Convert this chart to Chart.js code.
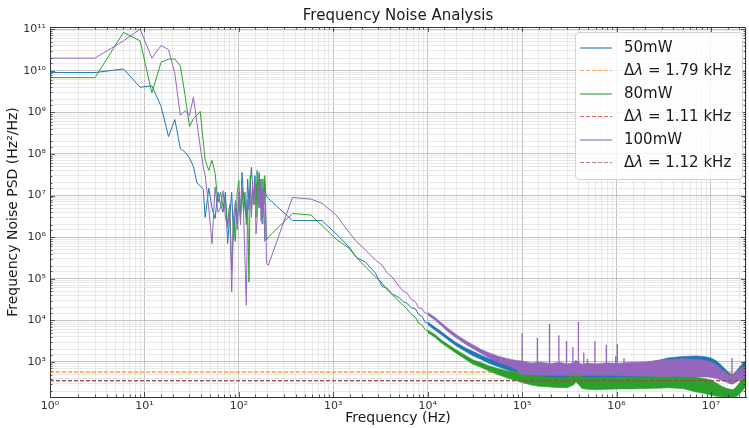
<!DOCTYPE html>
<html>
<head>
<meta charset="utf-8">
<script src="https://cdn.jsdelivr.net/npm/chart.js@4.4.0/dist/chart.umd.min.js"></script>
<style>
  html, body { margin: 0; padding: 0; background: #fff; }
  #wrap { position: relative; width: 749px; height: 428px; font-family: "DejaVu Sans", sans-serif; }
  #legendBox { position: absolute; left: 575px; top: 32px; width: 168px; height: 148px; box-sizing: border-box;
    border: 1px solid #d4d4d4; border-radius: 4px; background: rgba(255,255,255,0.8); padding-top: 3px; }
  .legend-item { position: relative; height: 23px; line-height: 23px; font-size: 15px; color: #1a1a1a; padding-left: 48px; white-space: nowrap; }
  .legend-line { position: absolute; left: 4px; top: 11px; width: 32px; height: 2px; }
</style>
</head>
<body>
<div id="wrap">
  <canvas id="psdChart" width="749" height="428"></canvas>
  <div id="legendBox"></div>
</div>
<script>
// low frequency part, shared 3 Hz grid
var lowFreq = [1, 3, 6, 9, 12, 15, 18, 21, 24, 27, 30, 33, 36, 39, 42];
var lowPsd50 = [9e9, 9e9, 1.1e10, 4e9, 4.3e9, 1.4e9, 2.6e8, 6.7e8, 1.35e8, 1.1e8, 8e7, 5e7, 2e7, 1.7e7, 1.4e7];
var lowPsd80 = [6.8e9, 6.8e9, 8.3e10, 5.2e10, 2.9e9, 1.6e10, 1.9e10, 1.9e10, 1.3e10, 2.5e9, 4.6e8, 7e8, 8.5e8, 1.05e9, 2e8];
var lowPsd100 = [2e10, 2e10, 5.2e10, 1e11, 2e10, 4e10, 3.2e10, 8.5e9, 8.4e8, 1.1e9, 8.4e8, 2.3e9, 5.6e8, 1.5e8, 5e7];

// acoustic band 40 - 200 Hz
var noiseFreq = [44, 48, 52, 56, 60, 64, 68, 72, 76, 80, 84, 88, 92, 96, 100, 104, 108, 112, 116, 120,
  124, 128, 132, 136, 140, 144, 148, 152, 156, 160, 164, 168, 172, 176, 180, 184, 188, 192, 196];
var noisePsd50 = [3e6, 1.5e7, 5e6, 2.8e6, 1.2e7, 6e6, 4e6, 1.2e7, 7e5, 3e6, 1.2e7, 8.5e5, 5e6, 2e6, 9e6, 3e6, 3.6e7, 1e7, 5e6, 3e6,
  2.5e7, 6e6, 2e7, 4.8e7, 1.5e7, 8e6, 3e7, 9e6, 2e7, 6e6, 3.6e7, 1e7, 2.5e7, 2.1e6, 1.5e7, 8e6, 2.3e7, 1.2e7, 9.5e6];
var noisePsd80 = [7e7, 4e7, 7e7, 3.4e7, 6.8e6, 1.2e7, 5.2e6, 8e6, 2e6, 6e6, 1.6e5, 3e6, 8e5, 1.2e7, 2.3e7, 3e6, 1.5e7, 4e6, 1.2e7, 2e6,
  6e6, 8.3e4, 3e7, 4e6, 1.5e7, 6e6, 2e7, 3e6, 4e7, 8e6, 2.5e7, 5e6, 1.5e7, 3e6, 2.5e7, 6e6, 3e7, 4e6, 8.5e5];
var noisePsd100 = [3e7, 5e6, 7e5, 1.6e7, 4e6, 5e6, 1.3e7, 3e6, 1.7e6, 6e6, 4.8e4, 3e6, 7.6e6, 1.5e6, 1.2e7, 2e6, 1.6e7, 5e6, 3e5, 2.3e4,
  8e6, 4.4e6, 1.5e7, 3e6, 2.2e7, 6e6, 2.3e7, 1.2e6, 2.5e6, 1.8e7, 5e6, 2e7, 2.4e6, 1.5e7, 3.7e6, 1.2e7, 8e5, 6e6, 2.4e5];

// 200 Hz - 10 kHz
var midFreq = [205, 370, 580, 760, 1070, 1470, 1750, 2200, 2800, 3300, 3700, 4200, 5000, 5500, 6000, 6700, 7400, 8000, 8700, 9400, 10000];
var midPsd50 = [8.5e6, 2.5e6, 2.5e6, 2.5e6, 1.2e6, 5.8e5, 3.3e5, 2.5e5, 1.36e5, 6.5e4, 6e4, 4.3e4, 3.5e4, 2.8e4, 2.6e4, 2e4, 1.9e4, 1.4e4, 1.25e4, 9e3, 8.5e3];
var midPsd80 = [1e6, 3.7e6, 3.4e6, 1.9e6, 9e5, 5.4e5, 3.3e5, 1.9e5, 1.1e5, 7.8e4, 5.5e4, 4.2e4, 2.8e4, 2.3e4, 1.9e4, 1.4e4, 1.2e4, 8.5e3, 7.8e3, 6e3, 5.5e3];
var midPsd100 = [2.1e5, 9e6, 8.2e6, 6.5e6, 3.4e6, 1.3e6, 8e5, 4.9e5, 2.8e5, 2.1e5, 1.4e5, 1.1e5, 6.5e4, 5e4, 4.6e4, 3.2e4, 2.8e4, 2e4, 1.9e4, 1.5e4, 1.45e4];

// high frequency noise floor: lower / upper envelope of each trace
var bandFreq = [1e4, 1.2e4, 1.4e4, 1.7e4, 2e4, 2.5e4, 3e4, 3.7e4, 4.5e4, 5.5e4, 7e4, 8.5e4, 1e5, 1.25e5, 1.5e5, 2e5, 2.5e5,
  3e5, 3.5e5, 3.7e5, 3.9e5, 4.3e5, 5e5, 6e5, 8e5, 1e6, 1.4e6, 2e6, 2.8e6, 3.5e6, 5e6, 7e6, 8.5e6, 1e7, 1.15e7, 1.3e7,
  1.45e7, 1.6e7, 1.7e7, 1.8e7, 1.95e7, 2.1e7, 2.25e7, 2.35e7];
var bandLo50 = [7.9e3, 5.8e3, 4.5e3, 3.2e3, 2.45e3, 1.8e3, 1.42e3, 1.15e3, 920, 780, 640, 560, 440, 420, 410, 410, 410,
  410, 420, 470, 440, 420, 420, 420, 420, 420, 430, 440, 450, 450, 450, 450, 450, 440, 420, 380,
  340, 300, 300, 320, 360, 400, 430, 450];
var bandHi50 = [9.1e3, 6.8e3, 5.3e3, 3.8e3, 2.95e3, 2.2e3, 1.8e3, 1.45e3, 1.2e3, 1.05e3, 900, 830, 780, 740, 720, 700, 700,
  700, 720, 820, 760, 700, 700, 720, 750, 780, 850, 950, 1.1e3, 1.25e3, 1.35e3, 1.4e3, 1.35e3, 1.25e3, 1.05e3, 820,
  640, 520, 500, 560, 700, 850, 1e3, 1.1e3];
var bandLo80 = [5.1e3, 3.9e3, 2.85e3, 2.1e3, 1.63e3, 1.17e3, 890, 740, 600, 500, 410, 360, 320, 280, 260, 250, 240,
  240, 280, 330, 300, 230, 220, 215, 220, 225, 225, 230, 235, 240, 230, 190, 175, 160, 150, 145,
  140, 135, 135, 140, 160, 190, 230, 260];
var bandHi80 = [5.9e3, 4.5e3, 3.35e3, 2.5e3, 1.97e3, 1.45e3, 1.13e3, 960, 800, 700, 610, 570, 530, 480, 450, 430, 420,
  420, 540, 740, 600, 430, 420, 420, 420, 420, 430, 440, 460, 480, 460, 430, 400, 370, 310, 260,
  235, 220, 215, 235, 290, 370, 420, 440];
var bandLo100 = [1.35e4, 1e4, 7.4e3, 5e3, 3.8e3, 2.7e3, 2.1e3, 1.6e3, 1.25e3, 1e3, 820, 680, 500, 490, 480, 480, 470,
  470, 470, 480, 480, 470, 470, 470, 470, 470, 460, 460, 450, 450, 450, 440, 440, 430, 400, 360,
  330, 300, 300, 320, 350, 380, 400, 420];
var bandHi100 = [1.55e4, 1.17e4, 8.7e3, 6e3, 4.6e3, 3.3e3, 2.6e3, 2e3, 1.65e3, 1.4e3, 1.2e3, 1.1e3, 1.05e3, 950, 1e3, 920, 980,
  900, 960, 1.1e3, 1e3, 880, 950, 900, 960, 920, 980, 1e3, 1.1e3, 1.15e3, 1.2e3, 1.15e3, 1.1e3, 1e3, 850, 650,
  540, 470, 460, 520, 620, 720, 820, 900];

// narrow spurs on the 100mW trace
var spikeFreq = [1e5, 1.45e5, 1.95e5, 2.45e5, 2.95e5, 3.45e5, 3.95e5, 4.5e5, 4.9e5, 5.9e5, 7.8e5, 9.8e5, 1.02e6, 1.2e6, 1.67e7];
var spikeBase = [800, 800, 800, 800, 800, 800, 900, 800, 800, 800, 800, 800, 800, 800, 420];
var spikeTop = [5e3, 3.8e3, 8.2e3, 4.4e3, 3.2e3, 2.3e3, 9.1e3, 1.7e3, 1.2e3, 3.2e3, 2.6e3, 1.4e3, 2.7e3, 1.25e3, 1.25e3];

// white noise levels h0 (linewidth = pi * h0)
var seriesLabels = ['50mW', '80mW', '100mW'];
var linewidthLabels = ['1.79 kHz', '1.11 kHz', '1.12 kHz'];
var whiteLevels = [570, 353, 356.5];

var xMin = 1, xMax = 2.35e7, yMin = 144, yMax = 1.12e11;
var lineColors = ['#1f77b4', '#2ca02c', '#9467bd'];
var dashColors = ['#ff7f0e', '#d62728', '#8c564b'];
var legendTints = ['rgba(31,119,180,0.55)', 'rgba(255,127,14,0.7)', 'rgba(44,160,44,0.55)',
  'rgba(214,39,40,0.7)', 'rgba(148,103,189,0.55)', 'rgba(140,86,75,0.7)'];

function pts(fs, vs) {
  return fs.map(function (f, i) { return { x: f, y: vs[i] }; });
}

var lowSets = [lowPsd50, lowPsd80, lowPsd100];
var noiseSets = [noisePsd50, noisePsd80, noisePsd100];
var midSets = [midPsd50, midPsd80, midPsd100];
var loSets = [bandLo50, bandLo80, bandLo100];
var hiSets = [bandHi50, bandHi80, bandHi100];

var datasets = [];
for (var s = 0; s < 3; s++) {
  var z = 7 - 2 * s; // later series on top
  var c = lineColors[s];
  datasets.push({
    label: seriesLabels[s],
    data: pts(lowFreq, lowSets[s]).concat(pts(noiseFreq, noiseSets[s]), pts(midFreq, midSets[s])),
    borderColor: c, borderWidth: 1, pointRadius: 0, fill: false, order: z
  });
  datasets.push({
    label: seriesLabels[s] + ' lo',
    data: pts(bandFreq, loSets[s]),
    borderColor: c, borderWidth: 0.6, pointRadius: 0, fill: false, order: z
  });
  datasets.push({
    label: seriesLabels[s] + ' hi',
    data: pts(bandFreq, hiSets[s]),
    borderColor: c, borderWidth: 0.6, pointRadius: 0, fill: '-1', backgroundColor: c, order: z
  });
  datasets.push({
    label: 'Δλ ' + linewidthLabels[s],
    data: [{ x: xMin, y: whiteLevels[s] }, { x: xMax, y: whiteLevels[s] }],
    borderColor: dashColors[s], borderWidth: 1, borderDash: [4, 2], pointRadius: 0, fill: false, order: z - 1
  });
}
var spikeData = [];
spikeFreq.forEach(function (f, i) {
  spikeData.push({ x: f, y: spikeBase[i] }, { x: f, y: spikeTop[i] }, { x: f, y: null });
});
datasets.push({
  label: 'spurs', data: spikeData, borderColor: lineColors[2], borderWidth: 1.3,
  pointRadius: 0, fill: false, spanGaps: false, order: 1.5
});

var supDigits = { '0': '⁰', '1': '¹', '2': '²', '3': '³', '4': '⁴', '5': '⁵', '6': '⁶', '7': '⁷', '8': '⁸', '9': '⁹', '-': '⁻' };
function isDecade(v) {
  var e = Math.log10(v);
  return Math.abs(e - Math.round(e)) < 1e-6;
}
function powLabel(v) {
  if (!isDecade(v)) return '';
  return '10' + String(Math.round(Math.log10(v))).split('').map(function (ch) { return supDigits[ch]; }).join('');
}
function gridColor(ctx) {
  if (!ctx.tick) return '#e2e2e2';
  return isDecade(ctx.tick.value) ? '#b4b4b4' : '#e2e2e2';
}

// top and right spines, plus inward tick marks on all four sides
var framePlugin = {
  id: 'frame',
  afterDraw: function (chart) {
    var a = chart.chartArea, ctx = chart.ctx;
    ctx.save();
    ctx.strokeStyle = '#333';
    ctx.lineWidth = 1;
    ctx.beginPath();
    ctx.moveTo(a.left, a.top + 0.5);
    ctx.lineTo(a.right - 0.5, a.top + 0.5);
    ctx.lineTo(a.right - 0.5, a.bottom);
    ctx.stroke();
    ctx.lineWidth = 0.8;
    ctx.beginPath();
    chart.scales.x.ticks.forEach(function (t) {
      if (t.value <= chart.scales.x.min || t.value >= chart.scales.x.max) return;
      var px = Math.round(chart.scales.x.getPixelForValue(t.value)) + 0.5;
      var len = isDecade(t.value) ? 5 : 2.5;
      ctx.moveTo(px, a.bottom); ctx.lineTo(px, a.bottom - len);
      ctx.moveTo(px, a.top); ctx.lineTo(px, a.top + len);
    });
    chart.scales.y.ticks.forEach(function (t) {
      if (t.value <= chart.scales.y.min || t.value >= chart.scales.y.max) return;
      var py = Math.round(chart.scales.y.getPixelForValue(t.value)) + 0.5;
      var len = isDecade(t.value) ? 5 : 2.5;
      ctx.moveTo(a.left, py); ctx.lineTo(a.left + len, py);
      ctx.moveTo(a.right, py); ctx.lineTo(a.right - len, py);
    });
    ctx.stroke();
    ctx.restore();
  }
};

var tickFont = { family: 'DejaVu Sans', size: 11 };
var ctx = document.getElementById('psdChart').getContext('2d');
var psdChart = new Chart(ctx, {
  type: 'line',
  data: { datasets: datasets },
  plugins: [framePlugin],
  options: {
    responsive: false,
    animation: false,
    events: [],
    layout: { padding: { left: 0, right: 1, top: 0, bottom: 0 } },
    plugins: {
      legend: { display: false },
      tooltip: { enabled: false },
      title: {
        display: true, text: 'Frequency Noise Analysis', fullSize: false,
        color: '#1a1a1a', font: { family: 'DejaVu Sans', size: 15, weight: 'normal' },
        padding: { top: 7, bottom: 2 }
      }
    },
    scales: {
      x: {
        type: 'logarithmic', min: xMin, max: xMax,
        afterFit: function (scale) { scale.height = 31; },
        grid: { color: gridColor, lineWidth: 0.8, drawTicks: false },
        border: { color: '#333', width: 1 },
        ticks: { autoSkip: false, maxRotation: 0, padding: 3, color: '#333', font: tickFont, callback: powLabel },
        title: { display: true, text: 'Frequency (Hz)', color: '#1a1a1a', font: { family: 'DejaVu Sans', size: 14 }, padding: { top: 1, bottom: 1 } }
      },
      y: {
        type: 'logarithmic', min: yMin, max: yMax,
        afterFit: function (scale) { scale.width = 50; },
        grid: { color: gridColor, lineWidth: 0.8, drawTicks: false },
        border: { color: '#333', width: 1 },
        ticks: { autoSkip: false, padding: 4, color: '#333', font: tickFont, callback: powLabel },
        title: { display: true, text: 'Frequency Noise PSD (Hz²/Hz)', color: '#1a1a1a', font: { family: 'DejaVu Sans', size: 14 }, padding: { top: 5, bottom: 0 } }
      }
    }
  }
});

// legend, built as html like the reference box
var legendEntries = [];
for (var k = 0; k < 3; k++) {
  legendEntries.push({ html: seriesLabels[k], dashed: false });
  legendEntries.push({ html: 'Δ<i>λ</i> = ' + linewidthLabels[k], dashed: true });
}
var legendBox = document.getElementById('legendBox');
legendEntries.forEach(function (entry, idx) {
  var item = document.createElement('div');
  item.classList.add('legend-item');
  var line = document.createElement('div');
  line.classList.add('legend-line');
  var tint = legendTints[idx];
  if (entry.dashed) {
    line.style.height = '1px';
    line.style.backgroundImage = 'repeating-linear-gradient(90deg, ' + tint + ' 0px, ' + tint + ' 4px, rgba(0,0,0,0) 4px, rgba(0,0,0,0) 6px)';
  } else {
    line.style.backgroundColor = tint;
  }
  item.appendChild(line);
  var text = document.createElement('span');
  text.innerHTML = entry.html;
  item.appendChild(text);
  legendBox.appendChild(item);
});
</script>
</body>
</html>
